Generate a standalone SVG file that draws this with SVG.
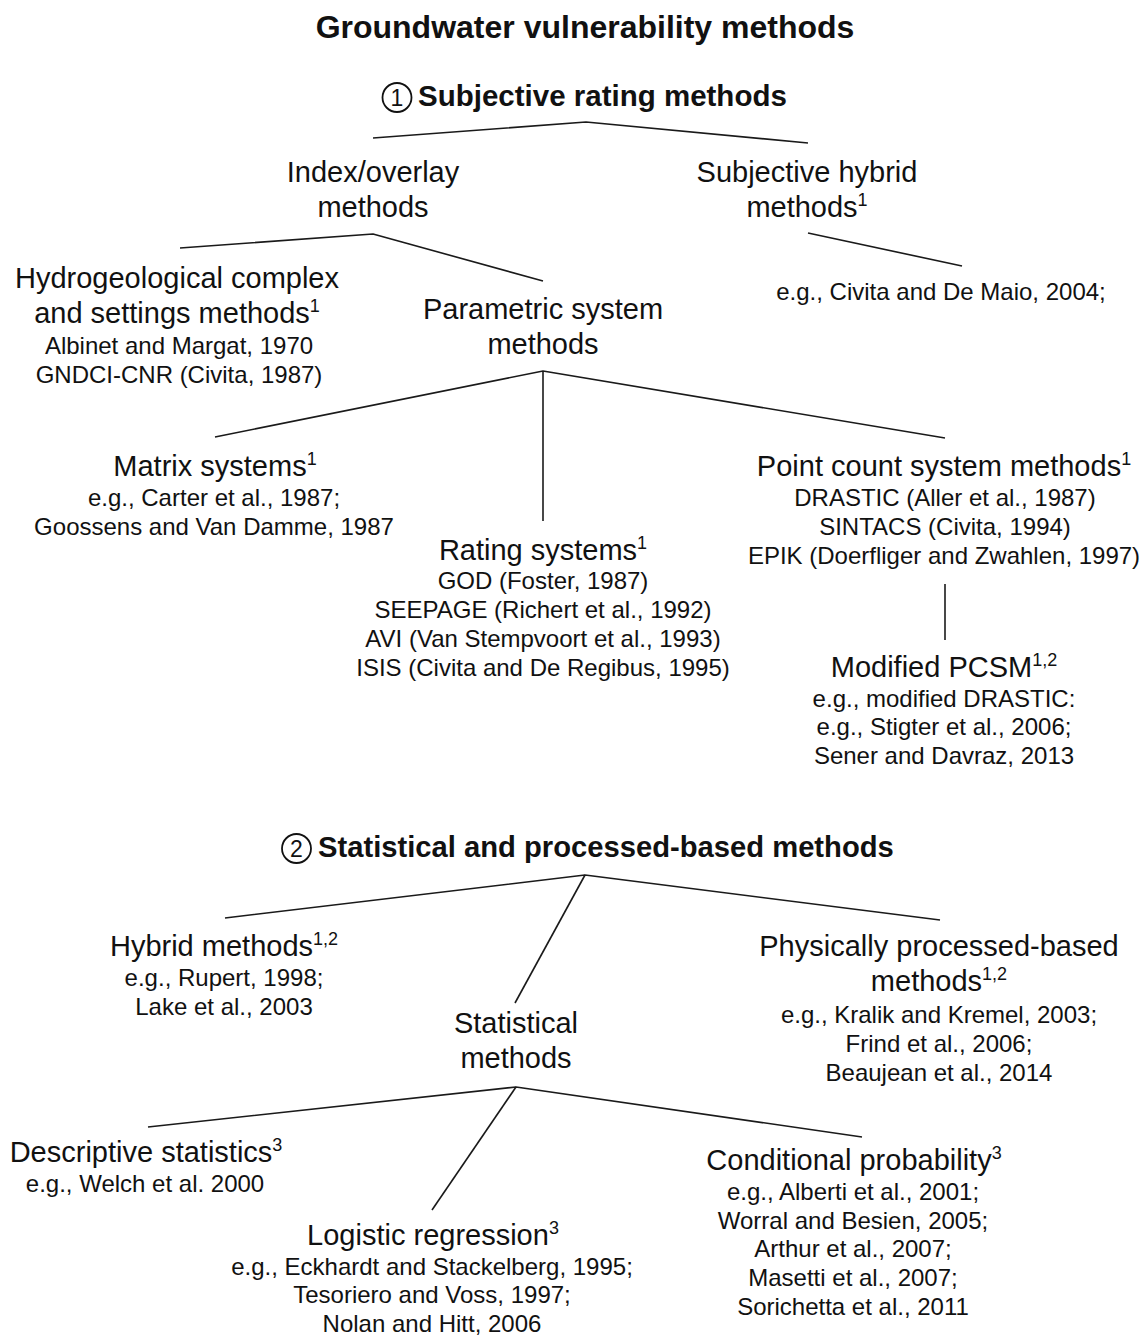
<svg xmlns="http://www.w3.org/2000/svg" width="1143" height="1336" viewBox="0 0 1143 1336">
  <style>
    text { font-family: "Liberation Sans", Arial, sans-serif; fill: #111; text-anchor: middle; }
    .title { font-size: 32px; font-weight: bold; }
    .head { font-size: 29.5px; font-weight: bold; text-anchor: start; }
    .lbl { font-size: 29px; }
    .ref { font-size: 24px; }
    .sup { font-size: 18px; }
    .num { font-size: 23px; }
    .ring { fill: none; stroke: #111; stroke-width: 1.8; }
    .edge { fill: none; stroke: #1a1a1a; stroke-width: 1.6; stroke-linejoin: round; }
  </style>
  <rect width="1143" height="1336" fill="#fff"/>

  <!-- tree connectors -->
  <g id="connectors">
    <path class="edge" d="M373,138 L586,122 L808,143"/>
    <path class="edge" d="M180,248 L373,234 L543,281"/>
    <path class="edge" d="M808,233 L962,266"/>
    <path class="edge" d="M215,437 L543,371 L945,438"/>
    <path class="edge" d="M543,371 L543,521"/>
    <path class="edge" d="M945,584 L945,640"/>
    <path class="edge" d="M225,918 L585,875 L940,920"/>
    <path class="edge" d="M585,875 L515,1003"/>
    <path class="edge" d="M148,1127 L516,1087 L862,1137"/>
    <path class="edge" d="M516,1087 L432,1210"/>
  </g>

  <g id="title">
    <text class="title" x="585" y="38">Groundwater vulnerability methods</text>
  </g>

  <!-- group 1 -->
  <g id="subjective-rating">
    <circle class="ring" cx="397" cy="97.5" r="14.5"/>
    <text class="num" x="397" y="105.5">1</text>
    <text class="head" x="418" y="106">Subjective rating methods</text>
  </g>

  <g id="index-overlay">
    <text class="lbl" x="373" y="182">Index/overlay</text>
    <text class="lbl" x="373" y="217">methods</text>
  </g>

  <g id="subjective-hybrid">
    <text class="lbl" x="807" y="182">Subjective hybrid</text>
    <text class="lbl" x="807" y="217">methods<tspan class="sup" dy="-11">1</tspan></text>
  </g>

  <g id="subjective-hybrid-refs">
    <text class="ref" x="941" y="300">e.g., Civita and De Maio, 2004;</text>
  </g>

  <g id="hydrogeological">
    <text class="lbl" x="177" y="288">Hydrogeological complex</text>
    <text class="lbl" x="177" y="323">and settings methods<tspan class="sup" dy="-11">1</tspan></text>
    <text class="ref" x="179" y="354">Albinet and Margat, 1970</text>
    <text class="ref" x="179" y="383">GNDCI-CNR (Civita, 1987)</text>
  </g>

  <g id="parametric">
    <text class="lbl" x="543" y="319">Parametric system</text>
    <text class="lbl" x="543" y="354">methods</text>
  </g>

  <g id="matrix">
    <text class="lbl" x="215" y="476">Matrix systems<tspan class="sup" dy="-11">1</tspan></text>
    <text class="ref" x="214" y="506">e.g., Carter et al., 1987;</text>
    <text class="ref" x="214" y="535">Goossens and Van Damme, 1987</text>
  </g>

  <g id="rating">
    <text class="lbl" x="543" y="560">Rating systems<tspan class="sup" dy="-11">1</tspan></text>
    <text class="ref" x="543" y="589">GOD (Foster, 1987)</text>
    <text class="ref" x="543" y="618">SEEPAGE (Richert et al., 1992)</text>
    <text class="ref" x="543" y="647">AVI (Van Stempvoort et al., 1993)</text>
    <text class="ref" x="543" y="676">ISIS (Civita and De Regibus, 1995)</text>
  </g>

  <g id="point-count">
    <text class="lbl" x="944" y="476">Point count system methods<tspan class="sup" dy="-11">1</tspan></text>
    <text class="ref" x="945" y="506">DRASTIC (Aller et al., 1987)</text>
    <text class="ref" x="945" y="535">SINTACS (Civita, 1994)</text>
    <text class="ref" x="944" y="564">EPIK (Doerfliger and Zwahlen, 1997)</text>
  </g>

  <g id="modified-pcsm">
    <text class="lbl" x="944" y="677">Modified PCSM<tspan class="sup" dy="-11">1,2</tspan></text>
    <text class="ref" x="944" y="707">e.g., modified DRASTIC:</text>
    <text class="ref" x="944" y="735">e.g., Stigter et al., 2006;</text>
    <text class="ref" x="944" y="764">Sener and Davraz, 2013</text>
  </g>

  <!-- group 2 -->
  <g id="statistical-process">
    <circle class="ring" cx="296.5" cy="848.5" r="14.5"/>
    <text class="num" x="296.5" y="856.5">2</text>
    <text class="head" x="318" y="857" style="font-size:29.2px">Statistical and processed-based methods</text>
  </g>

  <g id="hybrid">
    <text class="lbl" x="224" y="956">Hybrid methods<tspan class="sup" dy="-11">1,2</tspan></text>
    <text class="ref" x="224" y="986">e.g., Rupert, 1998;</text>
    <text class="ref" x="224" y="1015">Lake et al., 2003</text>
  </g>

  <g id="physically-based">
    <text class="lbl" x="939" y="956">Physically processed-based</text>
    <text class="lbl" x="939" y="991">methods<tspan class="sup" dy="-11">1,2</tspan></text>
    <text class="ref" x="939" y="1023">e.g., Kralik and Kremel, 2003;</text>
    <text class="ref" x="939" y="1052">Frind et al., 2006;</text>
    <text class="ref" x="939" y="1081">Beaujean et al., 2014</text>
  </g>

  <g id="statistical">
    <text class="lbl" x="516" y="1033">Statistical</text>
    <text class="lbl" x="516" y="1068">methods</text>
  </g>

  <g id="descriptive">
    <text class="lbl" x="146" y="1162">Descriptive statistics<tspan class="sup" dy="-11">3</tspan></text>
    <text class="ref" x="145" y="1192">e.g., Welch et al. 2000</text>
  </g>

  <g id="logistic">
    <text class="lbl" x="433" y="1245">Logistic regression<tspan class="sup" dy="-11">3</tspan></text>
    <text class="ref" x="432" y="1275">e.g., Eckhardt and Stackelberg, 1995;</text>
    <text class="ref" x="432" y="1303">Tesoriero and Voss, 1997;</text>
    <text class="ref" x="432" y="1332">Nolan and Hitt, 2006</text>
  </g>

  <g id="conditional">
    <text class="lbl" x="854" y="1170">Conditional probability<tspan class="sup" dy="-11">3</tspan></text>
    <text class="ref" x="853" y="1200">e.g., Alberti et al., 2001;</text>
    <text class="ref" x="853" y="1229">Worral and Besien, 2005;</text>
    <text class="ref" x="853" y="1257">Arthur et al., 2007;</text>
    <text class="ref" x="853" y="1286">Masetti et al., 2007;</text>
    <text class="ref" x="853" y="1315">Sorichetta et al., 2011</text>
  </g>
</svg>
